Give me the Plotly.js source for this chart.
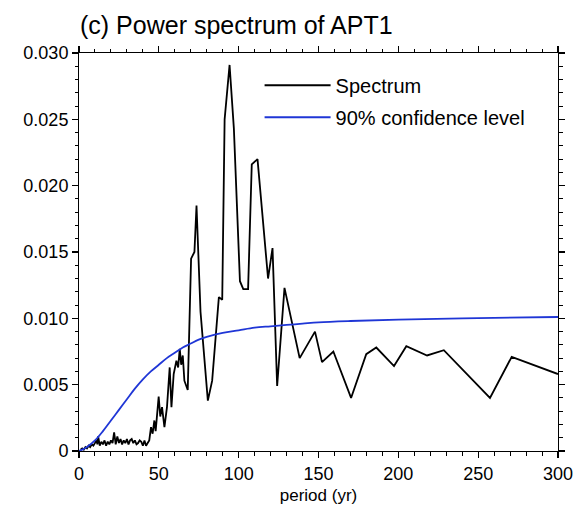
<!DOCTYPE html>
<html>
<head>
<meta charset="utf-8">
<script src="https://cdn.plot.ly/plotly-3.0.1.min.js"></script>
<style>html,body{margin:0;padding:0;background:#fff;}#chart{width:576px;height:512px;}</style>
</head>
<body>
<div id="chart"></div>
<script>
// Spectrum (period in yr, power)
const specPeriod = [1, 2, 3, 4, 5, 6, 7, 8, 9, 10, 11, 11.5, 12, 13, 14, 15, 16, 17, 18, 19, 20, 21, 22, 23, 24, 25, 26, 27, 28, 29, 30, 31, 32, 33, 34, 35, 36, 37, 38, 39, 40, 41, 42, 43, 44,
  45.1, 46.1, 47.2, 48, 49.9, 50.9, 52, 53.5, 55.1, 56.8, 57.9, 59.3, 61, 62.1, 63.1, 64, 65, 66, 68.1,
  70.2, 72.3, 73.6, 76.1, 80.7, 83.4, 87.6, 89.7, 91.2, 94.3, 97, 100.8, 102.9, 105.9, 108.2, 111.8,
  118.4, 121.2, 124.1, 128.7, 138.2, 147.8, 152.2, 159.3, 170.4, 179.9, 186.2, 197.3, 205, 218, 228.5, 257.4, 271, 300];
const specPower = [0.0001, 0.0002, 0.0001, 0.0003, 0.0002, 0.0004, 0.0003, 0.0005, 0.0004, 0.0006, 0.0008, 0.0005, 0.0011, 0.0004, 0.0007, 0.0005, 0.0008, 0.0004, 0.0007, 0.0005, 0.0008, 0.0006, 0.0014, 0.0005, 0.0011, 0.0006, 0.0009, 0.0005, 0.0008, 0.0006, 0.0009, 0.0005, 0.0008, 0.0009, 0.0006, 0.0008, 0.0005, 0.0006, 0.0008, 0.0007, 0.0004, 0.0008, 0.0004, 0.0006, 0.0008,
  0.0018, 0.0013, 0.0023, 0.0015, 0.0041, 0.0026, 0.0033, 0.0018, 0.0033, 0.0063, 0.0033, 0.0058, 0.0068, 0.0063, 0.0077, 0.0065, 0.0072, 0.0053, 0.0046,
  0.0145, 0.0150, 0.0185, 0.0105, 0.0038, 0.0053, 0.0116, 0.0114, 0.0250, 0.0291, 0.0243, 0.0128, 0.0122, 0.0122, 0.0216, 0.0220,
  0.0130, 0.0153, 0.0049, 0.0123, 0.0070, 0.0090, 0.0067, 0.0075, 0.0040, 0.0073, 0.0078, 0.0064, 0.0079, 0.0072, 0.0076, 0.0040, 0.0071, 0.0058];

// 90% confidence level
const confPeriod = [0, 2, 5, 10, 15, 20, 25, 30, 35, 40, 45, 50, 55, 60, 65, 70, 75, 80, 90, 100, 110, 120, 130, 140, 150, 170, 200, 240, 300];
const confPower = [0, 0.0001, 0.0003, 0.0008, 0.0015, 0.0023, 0.0031, 0.0039, 0.0047, 0.0054, 0.0060, 0.0065, 0.0070, 0.0074, 0.0078, 0.0081, 0.0084, 0.0086, 0.0089, 0.0091, 0.0093, 0.0094, 0.0095, 0.0096, 0.0097, 0.0098, 0.0099, 0.0100, 0.0101];

const xTickStep = 50;
const xMinorStep = 10;
const yTickStep = 0.005;
const yMinorStep = 0.001;
const yZeroLabel = {'0.000': '0'};
const seriesNames = ['Spectrum', '90% confidence level'];

const FONT = 'Liberation Sans, Arial, Helvetica, sans-serif';

const traces = [
  {x: specPeriod, y: specPower, type: 'scatter', mode: 'lines', name: seriesNames[0], legendgroup: 'a',
   line: {color: '#000000', width: 1.8}},
  {x: confPeriod, y: confPower, type: 'scatter', mode: 'lines', name: seriesNames[1], legendgroup: 'b',
   line: {color: '#1f36d6', width: 1.8, shape: 'spline'}}
];

const layout = {
  width: 576, height: 512,
  paper_bgcolor: '#fff', plot_bgcolor: '#fff',
  margin: {l: 79, r: 18, t: 53, b: 61},
  title: {text: '(c) Power spectrum of APT1', font: {family: FONT, size: 25, color: '#000'},
          xref: 'container', x: 80 / 576, xanchor: 'left', yref: 'container', y: 1 - 25 / 512, yanchor: 'middle'},
  showlegend: true,
  legend: {x: 0.377, y: 0.968, xanchor: 'left', yanchor: 'top', bgcolor: 'rgba(0,0,0,0)',
           font: {family: FONT, size: 20, color: '#000'}, itemwidth: 66, tracegroupgap: 3},
  xaxis: {
    range: [0, 300], tickmode: 'linear', tick0: 0, dtick: xTickStep,
    showgrid: false, zeroline: false, showline: true, linecolor: '#000', linewidth: 1,
    mirror: 'allticks', ticks: 'outside', ticklen: 6, tickwidth: 1.2, tickcolor: '#000',
    minor: {ticks: 'outside', dtick: xMinorStep, ticklen: 3.5, tickwidth: 1, tickcolor: '#000'},
    tickfont: {family: FONT, size: 18, color: '#000'},
    title: {text: 'period (yr)', font: {family: FONT, size: 17, color: '#000'}, standoff: 6}
  },
  yaxis: {
    range: [0, 0.030], tickmode: 'linear', tick0: 0, dtick: yTickStep, tickformat: '.3f',
    labelalias: yZeroLabel,
    showgrid: false, zeroline: false, showline: true, linecolor: '#000', linewidth: 1,
    mirror: 'allticks', ticks: 'outside', ticklen: 6, tickwidth: 1.2, tickcolor: '#000',
    minor: {ticks: 'outside', dtick: yMinorStep, ticklen: 3.5, tickwidth: 1, tickcolor: '#000'},
    tickfont: {family: FONT, size: 18, color: '#000'}
  }
};

Plotly.newPlot('chart', traces, layout, {staticPlot: true, displayModeBar: false});
</script>
</body>
</html>
